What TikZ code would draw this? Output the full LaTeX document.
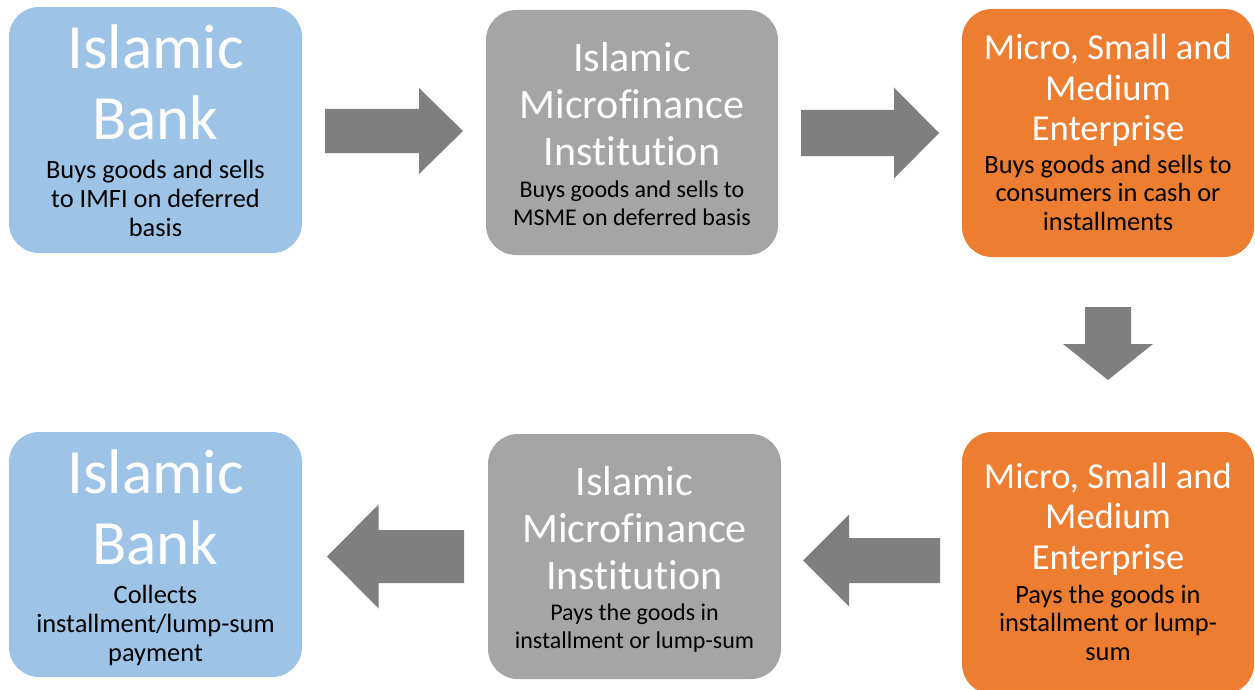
\documentclass[tikz,border=0pt]{standalone}
\usepackage{fontspec}
\setmainfont{Carlito}[Ligatures={NoCommon}]
\definecolor{bankblue}{HTML}{9DC3E6}
\definecolor{mfigray}{HTML}{A5A5A5}
\definecolor{smeorange}{HTML}{ED7D31}
\definecolor{arrowgray}{HTML}{7F7F7F}

% centred stack of lines whose baseline is the first line
\newcommand\lns[1]{\begin{tabular}[t]{@{}c@{}}#1\end{tabular}}

% block arrow: tail centre (x,y), rotation, length, shaft half-width, head half-width, head length
\newcommand\blockarrow[7]{%
  \fill[arrowgray, shift={(#1,#2)}, rotate=#3]
    (0,#5) -- ({#4-#7},#5) -- ({#4-#7},#6) -- (#4,0)
    -- ({#4-#7},-#6) -- ({#4-#7},-#5) -- (0,-#5) -- cycle;}

\tikzset{
  card/.style={rounded corners=30pt, inner sep=0pt, draw=none},
  ttl/.style={text=white, inner sep=0pt, anchor=base},
  dsc/.style={text=black, inner sep=0pt, anchor=base},
  bigttl/.style={ttl, font=\fontsize{63}{71}\selectfont},
  midttl/.style={ttl, font=\fontsize{42}{47}\selectfont},
  smlttl/.style={ttl, font=\fontsize{36.6}{40.5}\selectfont},
  bigdsc/.style={dsc, font=\fontsize{26.4}{29.3}\selectfont},
  middsc/.style={dsc, font=\fontsize{24}{28}\selectfont},
  smldsc/.style={dsc, font=\fontsize{26.4}{28.6}\selectfont},
}

\begin{document}
\begin{tikzpicture}[x=1pt, y=-1pt]
\useasboundingbox (0,0) rectangle (1255,690);
\clip (0,0) rectangle (1255,690);
\fill[white] (0,0) rectangle (1255,690);

% ---- top row ----
\node[card, fill=bankblue, minimum width=293pt, minimum height=246pt] (bank1) at (155.5,130) {};
\node[bigttl] (bank1t) at (155.5,69) {\lns{Islamic\\Bank}};
\node[bigdsc] (bank1d) at (155.5,178) {\lns{Buys goods and sells\\to IMFI on deferred\\basis}};

\node[card, fill=mfigray, minimum width=292pt, minimum height=245pt] (mfi1) at (632,132.5) {};
\node[midttl] (mfi1t) at (632,72) {\lns{Islamic\\Microfinance\\Institution}};
\node[middsc] (mfi1d) at (632,197) {\lns{Buys goods and sells to\\MSME on deferred basis}};

\node[card, fill=smeorange, minimum width=292pt, minimum height=248pt] (sme1) at (1108,133) {};
\node[smlttl] (sme1t) at (1108,60) {\lns{Micro, Small and\\Medium\\Enterprise}};
\node[smldsc] (sme1d) at (1108,173) {\lns{Buys goods and sells to\\consumers in cash or\\installments}};

% ---- bottom row ----
\node[card, fill=bankblue, minimum width=293pt, minimum height=245pt] (bank2) at (155.5,554.5) {};
\node[bigttl] (bank2t) at (155.5,493) {\lns{Islamic\\Bank}};
\node[bigdsc] (bank2d) at (155.5,603) {\lns{Collects\\installment/lump-sum\\payment}};

\node[card, fill=mfigray, minimum width=293pt, minimum height=245pt] (mfi2) at (634.5,556.5) {};
\node[midttl] (mfi2t) at (634.5,495) {\lns{Islamic\\Microfinance\\Institution}};
\node[middsc] (mfi2d) at (634.5,620) {\lns{Pays the goods in\\installment or lump-sum}};

\node[card, fill=smeorange, minimum width=292pt, minimum height=262pt] (sme2) at (1108,563) {};
\node[smlttl] (sme2t) at (1108,488) {\lns{Micro, Small and\\Medium\\Enterprise}};
\node[smldsc] (sme2d) at (1108,603) {\lns{Pays the goods in\\installment or lump-\\sum}};

% ---- flow arrows ----
\blockarrow{325}{131}{0}{138}{22}{43}{44}
\blockarrow{801}{133}{0}{138}{23}{45.5}{45}
\blockarrow{1108}{307}{-90}{73}{23}{45}{36}
\blockarrow{940}{560.5}{180}{137}{22.5}{46}{46}
\blockarrow{464}{556.5}{180}{137}{26.5}{52}{51.5}
\end{tikzpicture}
\end{document}
